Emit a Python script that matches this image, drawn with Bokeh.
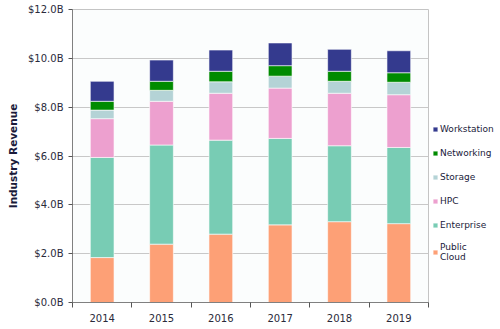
from bokeh.plotting import figure
from bokeh.models import (ColumnDataSource, Legend, LegendItem, FixedTicker,
                          PrintfTickFormatter, Range1d)
from bokeh.embed import file_html
from bokeh.resources import INLINE

years = ["2014", "2015", "2016", "2017", "2018", "2019"]
public_cloud = [1.84, 2.39, 2.80, 3.18, 3.31, 3.23]
enterprise = [4.10, 4.06, 3.85, 3.54, 3.11, 3.12]
hpc = [1.59, 1.79, 1.92, 2.06, 2.15, 2.16]
storage = [0.35, 0.45, 0.47, 0.49, 0.49, 0.51]
networking = [0.36, 0.37, 0.43, 0.43, 0.41, 0.39]
workstation = [0.82, 0.87, 0.87, 0.93, 0.90, 0.90]

series_keys = ["public_cloud", "enterprise", "hpc", "storage", "networking", "workstation"]
series_labels = ["Public\nCloud", "Enterprise", "HPC", "Storage", "Networking", "Workstation"]
colors = ["#fda076", "#78ccb4", "#eda0cf", "#b4d3d6", "#008b00", "#343a8e"]
y_ticks = [0, 2, 4, 6, 8, 10, 12]

pos = [i + 0.5 for i in range(len(years))]
source = ColumnDataSource(dict(
    x=pos, year=years,
    public_cloud=public_cloud, enterprise=enterprise, hpc=hpc,
    storage=storage, networking=networking, workstation=workstation,
))

p = figure(frame_width=356, frame_height=293, output_backend="svg", toolbar_location=None,
           x_range=Range1d(0, len(years)), y_range=Range1d(0, 12),
           min_border_left=72, min_border_right=0, min_border_top=9,
           min_border_bottom=27)

renderers = p.vbar_stack(series_keys, x="x", width=0.4, source=source,
                         fill_color=colors, line_color="white", line_alpha=0.6,
                         line_width=1)

p.background_fill_color = "#fbfdfd"
p.border_fill_color = "white"
p.outline_line_color = "#c4c4c4"

p.xgrid.grid_line_color = None
p.ygrid.grid_line_color = "#c8c8c8"
p.ygrid.ticker = FixedTicker(ticks=y_ticks)

p.yaxis.ticker = FixedTicker(ticks=y_ticks, minor_ticks=[])
p.yaxis.formatter = PrintfTickFormatter(format="$%.1fB")
p.yaxis.axis_label = "Industry Revenue"
p.yaxis.axis_label_text_font = "DejaVu Sans"
p.yaxis.axis_label_text_font_style = "bold"
p.yaxis.axis_label_text_font_size = "10.5px"
p.yaxis.axis_label_text_color = "#1a1a3a"
p.yaxis.axis_label_standoff = 6

p.xaxis.ticker = FixedTicker(ticks=pos, minor_ticks=list(range(len(years) + 1)))
p.xaxis.major_label_overrides = {v: y for v, y in zip(pos, years)}
p.xaxis.major_tick_line_color = None
p.xaxis.minor_tick_out = 5
p.xaxis.minor_tick_in = 0
p.xaxis.minor_tick_line_color = "#555555"

for ax in (p.xaxis, p.yaxis):
    ax.axis_line_color = "#808080"
    ax.major_label_text_font = "DejaVu Sans"
    ax.major_label_text_font_size = "10px"
    ax.major_label_text_color = "#2a2a3a"
    ax.major_label_standoff = 5
p.yaxis.major_tick_out = 4
p.yaxis.major_tick_in = 0
p.yaxis.major_tick_line_color = "#555555"
p.yaxis.minor_tick_line_color = None

items = [LegendItem(label=lab, renderers=[r]) for lab, r in zip(series_labels, renderers)]
legend = Legend(items=list(reversed(items)), location=(4, 40),
                background_fill_alpha=0, border_line_color=None,
                glyph_width=6, glyph_height=6, label_height=14, spacing=10,
                padding=5, margin=0, label_standoff=2,
                label_text_font="DejaVu Sans", label_text_font_size="9px",
                label_text_color="#1a1a3a")
p.add_layout(legend, "right")

open("out.html", "w").write(file_html(p, INLINE))
